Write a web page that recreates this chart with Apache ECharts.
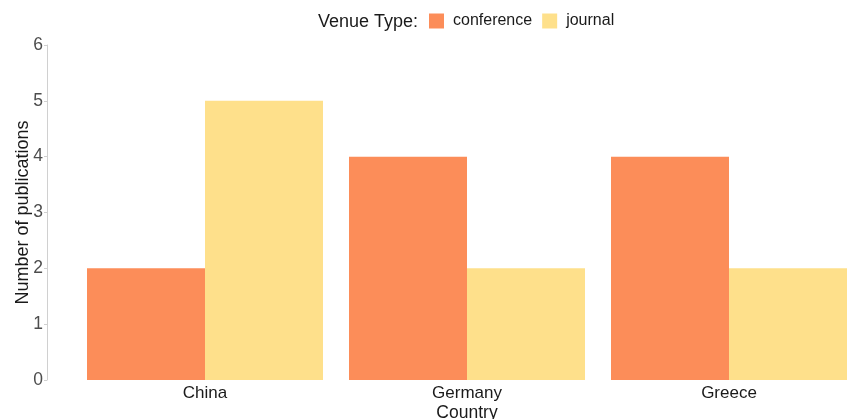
<!DOCTYPE html>
<html>
<head>
<meta charset="utf-8">
<script src="https://cdn.jsdelivr.net/npm/echarts@6/dist/echarts.min.js"></script>
<style>html,body{margin:0;padding:0;background:#fff;overflow:hidden;}#c{width:847px;height:419px;}</style>
</head>
<body>
<div id="c"></div>
<script>
const categories = ['China', 'Germany', 'Greece'];
const conference = [2, 4, 4];
const journal = [5, 2, 2];
const yTicks = [0, 1, 2, 3, 4, 5, 6];

const chart = echarts.init(document.getElementById('c'), null, {renderer: 'canvas', width: 847, height: 419});
const font = 'Liberation Sans, Arial, sans-serif';
chart.setOption({
  animation: false,
  backgroundColor: '#fff',
  title: {
    text: 'Venue Type:', left: 318, top: 13, padding: 0,
    textStyle: {fontFamily: font, fontSize: 18, fontWeight: 'normal', color: '#1a1a1a'}
  },
  legend: {
    left: 429, top: 13, padding: 0, itemWidth: 15, itemHeight: 15, itemGap: 10,
    icon: 'rect',
    textStyle: {fontFamily: font, fontSize: 16, color: '#1a1a1a', padding: [2, 0, 0, 4]},
    data: ['conference', 'journal']
  },
  grid: {left: 74, top: 45, width: 786, height: 335, containLabel: false, outerBoundsMode: 'none'},
  xAxis: {
    type: 'category', data: categories,
    name: 'Country', nameLocation: 'middle', nameGap: 24, nameMoveOverlap: false,
    nameTextStyle: {fontFamily: font, fontSize: 17.5, color: '#1a1a1a'},
    axisLine: {show: false}, axisTick: {show: false},
    axisLabel: {fontFamily: font, fontSize: 17, color: '#1a1a1a', margin: 5}
  },
  yAxis: {
    type: 'value', min: yTicks[0], max: yTicks[yTicks.length - 1], interval: 1,
    offset: 27,
    name: 'Number of publications', nameLocation: 'middle', nameGap: 15, nameMoveOverlap: false,
    nameTextStyle: {fontFamily: font, fontSize: 18, color: '#1a1a1a'},
    axisLine: {show: true, lineStyle: {color: '#d0d0d0', width: 1}},
    axisTick: {show: true, length: 3, lineStyle: {color: '#d0d0d0'}},
    splitLine: {show: false},
    axisLabel: {fontFamily: font, fontSize: 17.5, color: '#4d4d4d', margin: 4}
  },
  series: [
    {name: 'conference', type: 'bar', data: conference, barWidth: 118, barGap: '0%',
     itemStyle: {color: '#FC8D59'}},
    {name: 'journal', type: 'bar', data: journal, barWidth: 118, barGap: '0%',
     itemStyle: {color: '#FEE08B'}}
  ]
});
</script>
</body>
</html>
